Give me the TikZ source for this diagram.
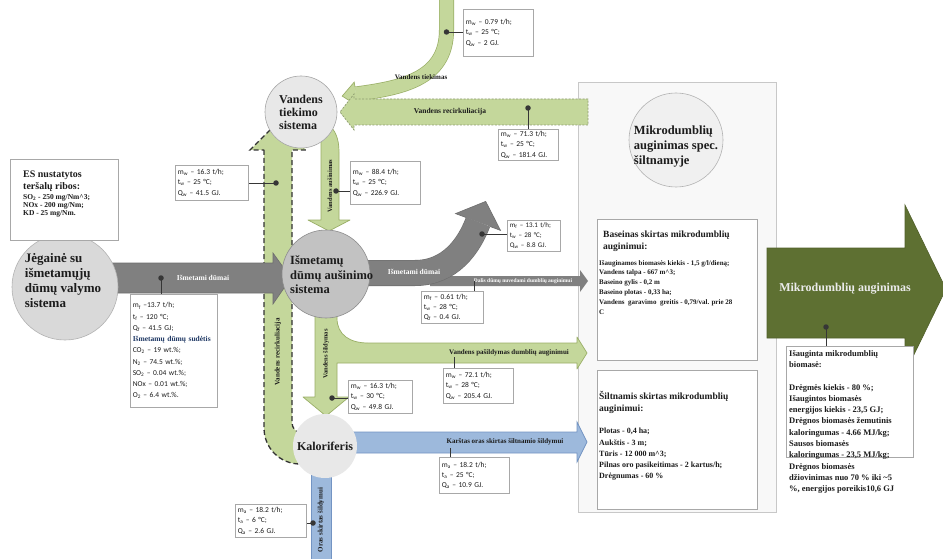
\documentclass[tikz,border=0pt]{standalone}
\usepackage{fontspec}
\setmainfont{Liberation Serif}
\newfontfamily\calfont{Carlito}
\definecolor{gfill}{HTML}{C4D79B}
\definecolor{gline}{HTML}{9AAF67}
\definecolor{gdash}{HTML}{8E9C70}
\definecolor{dgreen}{HTML}{5E7032}
\definecolor{smoke}{HTML}{808080}
\definecolor{smokeline}{HTML}{6E6E6E}
\definecolor{bfill}{HTML}{9DB9DC}
\definecolor{bline}{HTML}{7394C3}
\definecolor{ink}{HTML}{1C1C1C}
\definecolor{dotc}{HTML}{363636}
\definecolor{panelfill}{HTML}{F8F8F8}
\definecolor{panelline}{HTML}{C8C8C8}
\definecolor{sudblue}{HTML}{1F3864}
\definecolor{boxline}{HTML}{A8A8A8}
\newcommand\ssub[1]{\textsubscript{#1}}
\tikzset{
  dbox/.style={draw=boxline, fill=white, line width=0.6pt, anchor=north west,
    inner xsep=2.5pt, inner ysep=0pt, align=left, text=ink,
    font=\calfont\fontsize{7.5}{10.3}\selectfont},
  plainbox/.style={draw=boxline, fill=white, line width=0.6pt, anchor=north west, inner sep=0pt},
  txt/.style={inner sep=0pt, align=left, text=ink},
  alab/.style={inner sep=0pt, text=ink, font=\bfseries\fontsize{7}{8}\selectfont},
  wlab/.style={inner sep=0pt, text=white, font=\bfseries\fontsize{7.5}{8}\selectfont},
  dotmark/.style={circle, fill=dotc, inner sep=0pt, minimum size=5.5pt},
  leader/.style={draw=dotc, line width=0.9pt},
  garrow/.style={fill=gfill, draw=gline, line width=0.7pt, line join=round},
  sarrow/.style={fill=smoke, draw=smokeline, line width=0.6pt},
  barrow/.style={fill=bfill, draw=bline, line width=0.7pt},
}
\begin{document}
\begin{tikzpicture}[x=1pt,y=-1pt]
\useasboundingbox (0,0) rectangle (943,559);
\fill[white] (0,0) rectangle (943,559);

% ---------- greenhouse panel ----------
\node[draw=panelline, fill=panelfill, line width=0.8pt, anchor=north west, minimum width=198pt, minimum height=430pt, inner sep=0pt] (panel) at (578,82) {};
\node[plainbox, minimum width=160pt, minimum height=141pt] (bbox) at (597,219) {};
\node[plainbox, minimum width=160pt, minimum height=139pt] (sbox) at (597,370) {};
\node[circle, draw=black!30, fill=black!6, line width=0.6pt, minimum size=94pt, inner sep=0pt] (mcirc) at (676,140) {};
\node[txt, font=\bfseries\fontsize{12.5}{15}\selectfont] (mtext) at (676,147) {Mikrodumblių\\auginimas spec.\\šiltnamyje};
\node[txt, anchor=north west, font=\bfseries\fontsize{9.5}{12}\selectfont] (btitle) at (603,231) {Baseinas skirtas mikrodumblių\\auginimui:};
\node[txt, anchor=north west, font=\bfseries\fontsize{7}{9.8}\selectfont] (bbody) at (599,260) {Išauginamos biomasės kiekis - 1,5 g/l/dieną;\\Vandens talpa - 667 m\textasciicircum 3;\\Baseino gylis - 0,2 m\\Baseino plotas - 0,33 ha;\\Vandens\ \ garavimo\ \ greitis - 0,79/val. prie 28\\C};
\node[txt, anchor=north west, font=\bfseries\fontsize{9.5}{12}\selectfont] (stitle) at (599,391) {Šiltnamis skirtas mikrodumblių\\auginimui:};
\node[txt, anchor=north west, font=\bfseries\fontsize{8}{11.3}\selectfont] (sbody) at (599,428) {Plotas - 0,4 ha;\\Aukštis - 3 m;\\Tūris - 12 000 m\textasciicircum 3;\\Pilnas oro pasikeitimas - 2 kartus/h;\\Drėgnumas - 60 \%};

% ---------- big output arrow ----------
\draw[fill=dgreen, draw=dgreen!85!black, line width=0.6pt] (767,248) -- (905,248) -- (905,205) -- (946,289) -- (905,373) -- (905,338) -- (767,338) -- cycle;
\node[inner sep=0pt, text=white!92!black, font=\bfseries\fontsize{12}{14}\selectfont] (mlabel) at (845,289) {Mikrodumblių auginimas};
\node[plainbox, minimum width=127pt, minimum height=111pt] (rbox) at (786,346) {};
\node[txt, anchor=north west, font=\bfseries\fontsize{8.5}{11.3}\selectfont] (rtext) at (789,350) {Išauginta mikrodumblių\\biomasė:\\[11.3pt]Drėgmės kiekis - 80 \%;\\Išaugintos biomasės\\energijos kiekis - 23,5 GJ;\\Drėgnos biomasės žemutinis\\kaloringumas - 4.66 MJ/kg;\\Sausos biomasės\\kaloringumas - 23,5 MJ/kg;\\Drėgnos biomasės\\džiovinimas nuo 70 \% iki \textasciitilde 5\\\%, energijos poreikis10,6 GJ};
\node[dotmark] (d12) at (826,327) {};
\draw[leader] (d12.center) -- (d12.center |- rbox.north);

% ---------- water supply (curved) ----------
\draw[gline, line width=15pt] (446.5,-5) -- (446.5,30) .. controls (446.5,80) and (400,88) .. (356,94);
\draw[gfill, line width=13.6pt] (446.5,-6) -- (446.5,30) .. controls (446.5,80) and (400,88) .. (356,94);
\fill[gfill] (354.2,82.1) -- (342.2,96.1) -- (357.8,105.9) -- cycle;
\draw[gline, line width=0.7pt] (355,87.1) -- (354.2,82.1) -- (342.2,96.1) -- (357.8,105.9) -- (357,100.9);

% ---------- water recirculation (horizontal) ----------
\draw[fill=gfill, draw=gdash, line width=0.7pt, dash pattern=on 2pt off 1.5pt] (588,99) -- (354,99) -- (354,94) -- (340,112) -- (354,130) -- (354,125) -- (588,125) -- cycle;

% ---------- water cooling (down) ----------
\draw[garrow] (321,128) -- (321,220) -- (308,220) -- (329,231) -- (350,220) -- (339,220) -- (339,152) .. controls (339,138) and (335,130) .. (328,124) -- cycle;

% ---------- water recirculation (vertical, dashed) ----------
\draw[fill=gfill, draw=black!80, line width=1.3pt, dash pattern=on 5pt off 3pt] (264,150) -- (264,428) .. controls (264,448) and (280,464) .. (300,464) -- (306,440) -- (300,433) .. controls (295,431) and (292,428) .. (292,422) -- (292,150) -- (306,150) -- (278,122) -- (250,150) -- cycle;

% ---------- water heating + branch ----------
\draw[garrow] (315,300) -- (315,397) -- (303,397) -- (326,416) -- (349,397) -- (337,397) -- (337,363) -- (577,363) -- (577,369) -- (587,353) -- (577,337) -- (577,343) -- (368,343) .. controls (350,343) and (337,335) .. (337,318) -- (337,300) -- cycle;

% ---------- flue gas arrows ----------
\fill[smoke] (430,276) -- (580,276) -- (580,270) -- (588,281) -- (580,292) -- (580,286) -- (430,286) -- cycle;
\draw[smokeline, line width=26pt] (350,273) -- (415,273) .. controls (450,273) and (469,246) .. (478,222);
\draw[smoke, line width=24.8pt] (349,273) -- (415,273) .. controls (450,273) and (469,246) .. (478,222);
\fill[smoke] (455.5,213.6) -- (485.7,201.4) -- (500.5,230.4) -- cycle;
\draw[smokeline, line width=0.6pt] (466.3,217.6) -- (455.5,213.6) -- (485.7,201.4) -- (500.5,230.4) -- (489.7,226.4);
\draw[sarrow] (110,263) -- (273,263) -- (273,253) -- (291,278) -- (273,304) -- (273,293) -- (110,293) -- cycle;

% ---------- air arrows ----------
\draw[barrow] (350,432) -- (577,432) -- (577,422) -- (587,442) -- (577,462) -- (577,453) -- (350,453) -- cycle;
\draw[barrow] (311,465) -- (331,465) -- (331,565) -- (311,565) -- cycle;

% ---------- circles ----------
\node[circle, fill=black!15, draw=black!30, line width=0.6pt, minimum size=106pt, inner sep=0pt] (jcirc) at (65,287) {};
\node[txt, font=\bfseries\fontsize{13}{15}\selectfont] (jtext) at (63,281) {Jėgainė su\\išmetamųjų\\dūmų valymo\\sistema};
\node[circle, fill=black!24, draw=black!45, line width=0.6pt, minimum size=88pt, inner sep=0pt] (icirc) at (326,274) {};
\node[txt, anchor=west, font=\bfseries\fontsize{12.5}{14.5}\selectfont] (itext) at (290,275) {Išmetamų\\dūmų aušinimo\\sistema};
\node[circle, fill=black!9, draw=black!35, line width=0.6pt, minimum size=72pt, inner sep=0pt, align=left, text=ink, font=\bfseries\fontsize{12}{13}\selectfont] (vcirc) at (301,112) {Vandens\\tiekimo\\sistema};
\node[circle, fill=black!9, minimum size=64pt, inner sep=0pt, text=ink, font=\bfseries\fontsize{12}{14}\selectfont] (kcirc) at (325,446) {Kaloriferis};

% ---------- arrow labels ----------
\node[alab] (l1) at (421,77) {Vandens tiekimas};
\node[alab, font=\bfseries\fontsize{7.5}{8}\selectfont] (l2) at (450,112) {Vandens recirkuliacija};
\node[alab, rotate=90, font=\bfseries\fontsize{6.5}{8}\selectfont] (l3) at (330,186) {Vandens aušinimas};
\node[wlab] (l4) at (203,278) {Išmetami dūmai};
\node[wlab] (l5) at (414,272) {Išmetami dūmai};
\node[wlab, font=\bfseries\fontsize{5.5}{6}\selectfont] (l6) at (523,281) {Dalis dūmų nuvedami dumblių auginimui};
\node[alab, rotate=90] (l7) at (278,352) {Vandens recirkuliacija};
\node[alab, rotate=90, font=\bfseries\fontsize{6.5}{8}\selectfont] (l8) at (326,354) {Vandens šildymas};
\node[alab] (l9) at (509,353) {Vandens pašildymas dumblių auginimui};
\node[alab] (l10) at (505,442) {Karštas oras skirtas šiltnamio šildymui};
\node[alab, rotate=90] (l11) at (321,520) {Oras skirtas šildymui};

% ---------- ES box ----------
\node[plainbox, minimum width=108pt, minimum height=81pt] (esbox) at (10,159) {};
\node[txt, anchor=north west, font=\bfseries\fontsize{10}{12}\selectfont] (estitle) at (23,170.5) {ES nustatytos\\teršalų ribos:};
\node[txt, anchor=north west, font=\bfseries\fontsize{7.5}{7.8}\selectfont] (esbody) at (23,194.6) {SO\ssub{2} - 250 mg/Nm\textasciicircum 3;\\NOx - 200 mg/Nm;\\KD - 25 mg/Nm.};

% ---------- data boxes ----------
\node[dbox, minimum width=70pt, minimum height=47pt, text width=65pt] (b079) at (463,9) {m\ssub{w} – 0.79 t/h;\\t\ssub{w} – 25 °C;\\Q\ssub{w} – 2 GJ.};
\node[dbox, minimum width=60pt, minimum height=31pt, text width=55pt] (b713) at (498,129) {m\ssub{w} – 71.3 t/h;\\t\ssub{w} – 25 °C;\\Q\ssub{w} – 181.4 GJ.};
\node[dbox, minimum width=73pt, minimum height=35pt, text width=68pt] (bl163) at (175,165) {m\ssub{w} – 16.3 t/h;\\t\ssub{w} – 25 °C;\\Q\ssub{w} – 41.5 GJ.};
\node[dbox, minimum width=70pt, minimum height=43pt, text width=65pt] (b884) at (350,161) {m\ssub{w} – 88.4 t/h;\\t\ssub{w} – 25 °C;\\Q\ssub{w} – 226.9 GJ.};
\node[dbox, minimum width=53pt, minimum height=31pt, text width=48pt, font=\calfont\fontsize{7}{10}\selectfont] (b131) at (507,220) {m\ssub{f} – 13.1 t/h;\\t\ssub{w} – 28 °C;\\Q\ssub{w} – 8.8 GJ.};
\node[dbox, minimum width=62pt, minimum height=32pt, text width=57pt] (b061) at (421,291) {m\ssub{f} – 0.61 t/h;\\t\ssub{w} – 28 °C;\\Q\ssub{f} – 0.4 GJ.};
\node[dbox, minimum width=87pt, minimum height=113pt, text width=82pt, font=\calfont\fontsize{7.5}{11.25}\selectfont] (fbox) at (130,294) {m\ssub{f} –13.7 t/h;\\t\ssub{f} – 120 °C;\\Q\ssub{f} – 41.5 GJ;\\{\rmfamily\bfseries\color{sudblue}Išmetamų dūmų sudėtis}\\CO\ssub{2} – 19 wt.\%;\\N\ssub{2} – 74.5 wt.\%;\\SO\ssub{2} – 0.04 wt.\%;\\NOx – 0.01 wt.\%;\\O\ssub{2} – 6.4 wt.\%.};
\node[dbox, minimum width=70pt, minimum height=35pt, text width=65pt] (b721) at (443,368) {m\ssub{w} – 72.1 t/h;\\t\ssub{w} – 28 °C;\\Q\ssub{w} – 205.4 GJ.};
\node[dbox, minimum width=64pt, minimum height=33pt, text width=59pt] (b163) at (348,380) {m\ssub{w} – 16.3 t/h;\\t\ssub{w} – 30 °C;\\Q\ssub{w} – 49.8 GJ.};
\node[dbox, minimum width=70pt, minimum height=36pt, text width=65pt] (b182) at (439,457) {m\ssub{a} – 18.2 t/h;\\t\ssub{a} – 25 °C;\\Q\ssub{a} – 10.9 GJ.};
\node[dbox, minimum width=71pt, minimum height=33pt, text width=66pt] (b182b) at (235,504) {m\ssub{a} – 18.2 t/h;\\t\ssub{a} – 6 °C;\\Q\ssub{a} – 2.6 GJ.};

% ---------- dots and leaders ----------
\node[dotmark] (d1) at (446.5,32) {};
\draw[leader] (d1.center) -- (b079.west |- d1.center);
\node[dotmark] (d2) at (528,108) {};
\draw[leader] (d2.center) -- (d2.center |- b713.north);
\node[dotmark] (d3) at (276,183) {};
\draw[leader] (d3.center) -- (bl163.east |- d3.center);
\node[dotmark] (d4) at (336,191) {};
\draw[leader] (d4.center) -- (b884.west |- d4.center);
\node[dotmark] (d5) at (482,234) {};
\draw[leader] (d5.center) -- (b131.west |- d5.center);
\coordinate (c6) at (474,281);
\draw[leader] (c6) -- (c6 |- b061.north);
\node[dotmark] (d7) at (161,278) {};
\draw[leader] (d7.center) -- (d7.center |- fbox.north);
\coordinate (c8) at (454,357);
\draw[leader] (c8) -- (c8 |- b721.north);
\node[dotmark] (d9) at (332,398) {};
\draw[leader] (d9.center) -- (b163.west |- d9.center);
\coordinate (c10) at (450,448);
\draw[leader] (c10) -- (c10 |- b182.north);
\node[dotmark] (d11) at (313,523) {};
\draw[leader] (d11.center) -- (b182b.east |- d11.center);
\end{tikzpicture}
\end{document}
